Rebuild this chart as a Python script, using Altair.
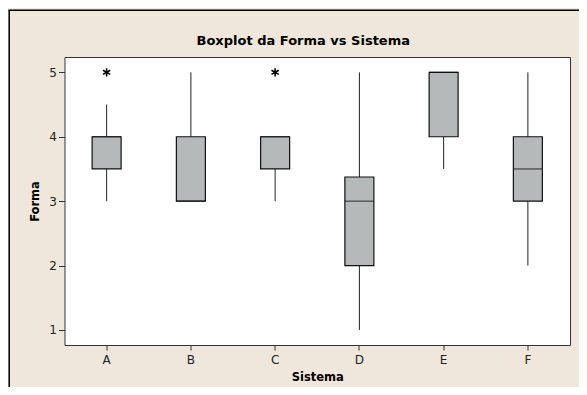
import altair as alt
import pandas as pd

sistemas = ["A", "B", "C", "D", "E", "F"]
q1 = [3.5, 3.0, 3.5, 2.0, 4.0, 3.0]
q3 = [4.0, 4.0, 4.0, 3.375, 5.0, 4.0]
medianas = [4.0, 3.0, 4.0, 3.0, 5.0, 3.5]
whisk_lo = [3.0, 3.0, 3.0, 1.0, 3.5, 2.0]
whisk_hi = [4.5, 5.0, 4.0, 5.0, 5.0, 5.0]
outlier_sistema = ["A", "C"]
outlier_valor = [5.0, 5.0]
y_ticks = [1, 2, 3, 4, 5]

FONT = "DejaVu Sans"

boxes = pd.DataFrame({
    "Sistema": sistemas, "q1": q1, "q3": q3, "med": medianas,
    "lo": whisk_lo, "hi": whisk_hi,
})
outs = pd.DataFrame({"Sistema": outlier_sistema, "Forma": outlier_valor})

x_scale = alt.Scale(domain=sistemas, paddingInner=0, paddingOuter=0)
y_scale = alt.Scale(domain=[0.767, 5.238], nice=False, zero=False)

x_enc = alt.X("Sistema:N", scale=x_scale, sort=sistemas,
              axis=alt.Axis(title="Sistema", labelAngle=0, tickSize=5,
                            domain=False, labelPadding=4, titlePadding=6))
y_axis = alt.Axis(title="Forma", values=y_ticks, grid=False, domain=False,
                  tickSize=6, labelPadding=2, titlePadding=8)

base = alt.Chart(boxes)

lower = base.mark_rule(color="#222222", strokeWidth=1).encode(
    x=x_enc,
    y=alt.Y("lo:Q", scale=y_scale, axis=y_axis),
    y2="q1:Q",
)
upper = base.mark_rule(color="#222222", strokeWidth=1).encode(
    x=x_enc, y=alt.Y("q3:Q", scale=y_scale, axis=y_axis), y2="hi:Q",
)
bars = base.mark_bar(width=29, fill="#B5B9B9", stroke="#111111",
                     strokeWidth=1.2).encode(
    x=x_enc, y=alt.Y("q1:Q", scale=y_scale, axis=y_axis), y2="q3:Q",
)
meds = base.mark_tick(size=29, thickness=1.2, color="#111111").encode(
    x=x_enc, y=alt.Y("med:Q", scale=y_scale, axis=y_axis),
)
stars = alt.Chart(outs).mark_point(
    shape="M0,-1L0,1M-0.87,-0.5L0.87,0.5M-0.87,0.5L0.87,-0.5",
    size=70, filled=False, color="black", strokeWidth=1.6, opacity=1,
).encode(
    x=x_enc, y=alt.Y("Forma:Q", scale=y_scale, axis=y_axis),
)

frame_data = alt.Data(values=[{"k": 1}])
frame_left = alt.Chart(frame_data).mark_rule(color="black", strokeWidth=1.5).encode(
    x=alt.value(-55.3), y=alt.value(-46.7), y2=alt.value(340)
)
frame_top = alt.Chart(frame_data).mark_rule(color="black", strokeWidth=1.5).encode(
    x=alt.value(-56), x2=alt.value(520), y=alt.value(-46.7)
)

chart = alt.layer(lower, upper, bars, meds, stars, frame_left, frame_top).properties(
    width=505.5,
    height=288,
    title=alt.TitleParams("Boxplot da Forma vs Sistema", font=FONT, fontSize=13,
                          fontWeight="bold", color="black", offset=-38.5,
                          frame="group", dx=-14),
    autosize=alt.AutoSizeParams(type="none"),
    padding={"left": 56.5, "top": 49, "right": 9, "bottom": 42},
    background="#EFE7DC",
).configure_view(
    stroke="#333333", strokeWidth=1, fill="white"
).configure_axis(
    labelFont=FONT, labelFontSize=12, labelColor="#222222",
    titleFont=FONT, titleFontSize=11.5, titleFontWeight="bold", titleColor="black",
    tickColor="#333333",
)

chart.save("out.html", embed_options={"renderer": "svg", "actions": False})
